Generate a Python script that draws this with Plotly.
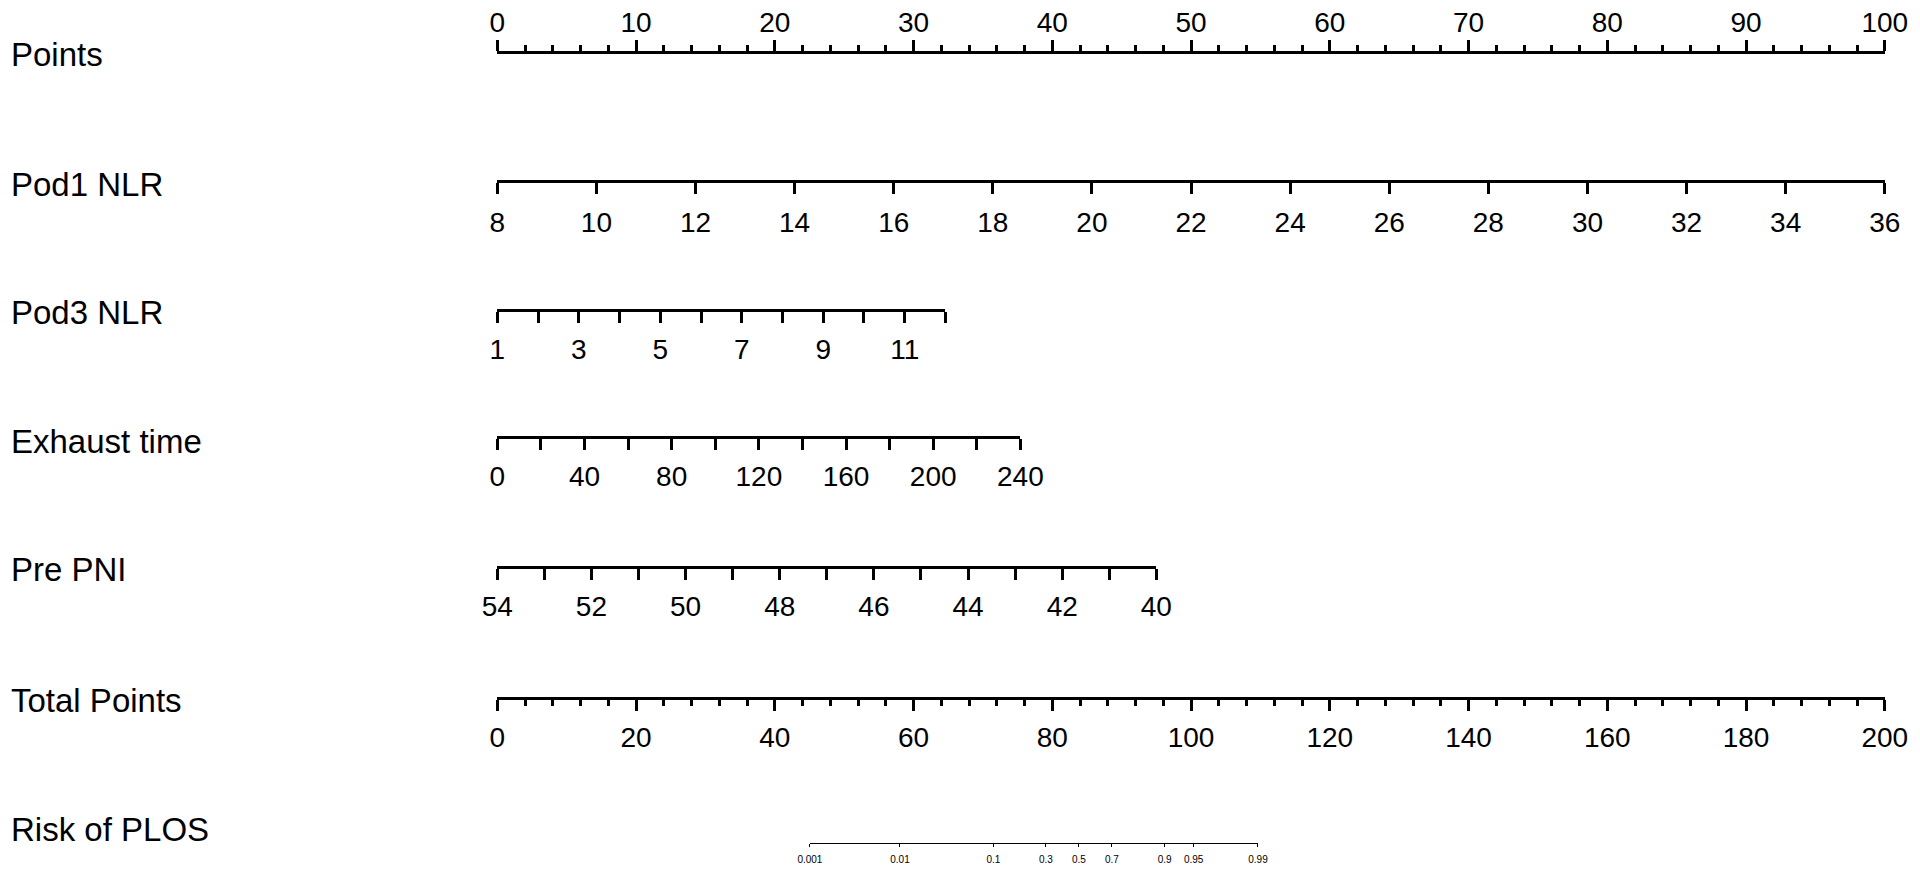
import numpy as np
import plotly.graph_objects as go

# nomogram scales: variable values at the two ends and the points they get
points_ticks = list(range(0, 101, 10))

pod1_nlr_ends = [8, 36]
pod1_nlr_points = [0, 100]
pod1_nlr_ticks = list(range(8, 37, 2))

pod3_nlr_ends = [1, 12]
pod3_nlr_points = [0, 32.3]
pod3_nlr_ticks = list(range(1, 13))
pod3_nlr_labels = [1, 3, 5, 7, 9, 11]

exhaust_ends = [0, 240]
exhaust_points = [0, 37.7]
exhaust_ticks = list(range(0, 241, 20))
exhaust_labels = list(range(0, 241, 40))

pre_pni_ends = [54, 40]
pre_pni_points = [0, 47.5]
pre_pni_ticks = list(range(54, 39, -1))
pre_pni_labels = list(range(54, 39, -2))

total_ends = [0, 200]
total_ticks = list(range(0, 201, 20))

risk_ticks = [0.001, 0.01, 0.1, 0.3, 0.5, 0.7, 0.9, 0.95, 0.99]
risk_labels = ["0.001", "0.01", "0.1", "0.3", "0.5", "0.7", "0.9", "0.95", "0.99"]
risk_total_points = [45.06, 109.65]  # total points where risk = 0.001 and 0.99

# page is 1920x873, the browser puts an 8px body margin round the figure
OFF = 8
W, H = 1920 - 2 * OFF, 873 - 2 * OFF
x0_px, px_per_point = 497.3, 13.875   # page pixels of 0 points and per point
FONT = "Arial, Liberation Sans, sans-serif"


def dom(p):
    return [(x0_px - OFF + p[0] * px_per_point) / W, (x0_px - OFF + p[1] * px_per_point) / W]


def ypos(y_px):
    return 1 - (y_px - OFF) / H


def logit(p):
    p = np.asarray(p, dtype=float)
    return np.log(p / (1 - p))


fig = go.Figure()
layout = dict(
    width=W, height=H,
    margin=dict(l=0, r=0, t=0, b=0, autoexpand=False),
    plot_bgcolor="rgba(0,0,0,0)", paper_bgcolor="white",
    showlegend=False,
    yaxis=dict(visible=False, range=[0, 1], fixedrange=True, automargin=False),
)


def add_axis(n, rng, domain, y_px, side, tickvals, ticktext, ticklen=11, minor=None,
             size=28, lw=3, tw=2.5, standoff=2):
    name = "xaxis" if n == 1 else f"xaxis{n}"
    ax = dict(
        range=rng, domain=domain, anchor="free", position=ypos(y_px), side=side,
        showline=True, linecolor="black", linewidth=lw,
        ticks="outside", ticklen=ticklen, tickwidth=tw, tickcolor="black",
        tickmode="array", tickvals=tickvals, ticktext=ticktext,
        tickfont=dict(size=size, color="black", family=FONT),
        ticklabelstandoff=standoff, automargin=False,
        showgrid=False, zeroline=False, fixedrange=True,
    )
    if minor:
        ax["minor"] = minor
    layout[name] = ax
    fig.add_trace(go.Scatter(
        x=rng, y=[0.5, 0.5], xaxis="x" if n == 1 else f"x{n}", yaxis="y",
        mode="markers", marker=dict(opacity=0), hoverinfo="skip"))


def blank_unless(ticks, labels):
    return [str(t) if t in labels else "" for t in ticks]


# Points
add_axis(1, [0, 100], dom([0, 100]), 51.7, "top", points_ticks, [str(t) for t in points_ticks],
         minor=dict(dtick=2, tick0=0, ticks="outside", ticklen=6, tickwidth=2.5, tickcolor="black"),
         standoff=-3)
# Pod1 NLR
add_axis(2, pod1_nlr_ends, dom(pod1_nlr_points), 181, "bottom", pod1_nlr_ticks,
         [str(t) for t in pod1_nlr_ticks], standoff=4)
# Pod3 NLR
add_axis(3, pod3_nlr_ends, dom(pod3_nlr_points), 310, "bottom", pod3_nlr_ticks,
         blank_unless(pod3_nlr_ticks, pod3_nlr_labels))
# Exhaust time
add_axis(4, exhaust_ends, dom(exhaust_points), 437, "bottom", exhaust_ticks,
         blank_unless(exhaust_ticks, exhaust_labels))
# Pre PNI
add_axis(5, pre_pni_ends, dom(pre_pni_points), 567, "bottom", pre_pni_ticks,
         blank_unless(pre_pni_ticks, pre_pni_labels))
# Total Points
add_axis(6, total_ends, dom([0, 100]), 698, "bottom", total_ticks, [str(t) for t in total_ticks],
         minor=dict(dtick=4, tick0=0, ticks="outside", ticklen=6, tickwidth=2.5, tickcolor="black"))
# Risk of PLOS (logit scale)
risk_dom = dom([p / 2 for p in risk_total_points])
add_axis(7, list(logit([risk_ticks[0], risk_ticks[-1]])), risk_dom, 843, "bottom",
         list(logit(risk_ticks)), risk_labels, ticklen=3, size=10, lw=1, tw=1, standoff=4)

row_names = ["Points", "Pod1 NLR", "Pod3 NLR", "Exhaust time", "Pre PNI", "Total Points", "Risk of PLOS"]
row_y = [55, 184, 312, 441, 569, 700, 829]
layout["annotations"] = [
    dict(text=t, x=(9 - OFF) / W, y=ypos(y), xref="paper", yref="paper", xanchor="left",
         yanchor="middle", showarrow=False, font=dict(size=33, color="black", family=FONT))
    for t, y in zip(row_names, row_y)
]

fig.update_layout(**layout)
fig.write_html("out.html")
